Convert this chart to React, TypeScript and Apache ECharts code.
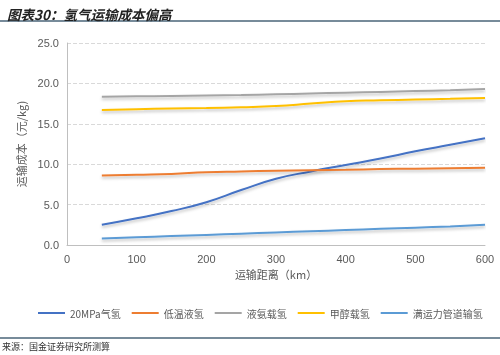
import React, { useEffect, useRef } from "react";
import * as echarts from "echarts";

const xValues = [50, 100, 150, 200, 250, 300, 350, 400, 450, 500, 550, 600];
const gas20MPa = [2.5, 3.3, 4.2, 5.3, 6.8, 8.2, 9.1, 9.9, 10.7, 11.6, 12.4, 13.2];
const liquidH2 = [8.6, 8.7, 8.8, 9.0, 9.1, 9.2, 9.25, 9.3, 9.4, 9.45, 9.5, 9.55];
const ammonia = [18.35, 18.4, 18.45, 18.5, 18.55, 18.65, 18.75, 18.85, 18.95, 19.05, 19.15, 19.3];
const methanol = [16.7, 16.8, 16.9, 16.95, 17.05, 17.2, 17.5, 17.8, 17.9, 18.0, 18.1, 18.2];
const pipeline = [0.8, 0.95, 1.1, 1.25, 1.4, 1.55, 1.7, 1.85, 2.0, 2.15, 2.3, 2.5];

const seriesNames = ["20MPa气氢", "低温液氢", "液氨载氢", "甲醇载氢", "满运力管道输氢"];
const seriesData = [gas20MPa, liquidH2, ammonia, methanol, pipeline];
const colors = ["#4472C4", "#ED7D31", "#A5A5A5", "#FFC000", "#5B9BD5"];

export default function App() {
  const ref = useRef<HTMLDivElement>(null);
  useEffect(() => {
    if (!ref.current) return;
    const chart = echarts.init(ref.current, undefined, { renderer: "svg" });
    const font = "Noto Sans CJK SC";
    chart.setOption({
      animation: false,
      textStyle: { fontFamily: font },
      title: {
        text: "图表30：氢气运输成本偏高",
        left: 2,
        top: 2,
        textStyle: { fontSize: 13.5, fontWeight: "bold", fontStyle: "italic", color: "#222", fontFamily: font },
      },
      graphic: [
        { type: "line", shape: { x1: 0, y1: 21, x2: 500, y2: 21 }, style: { stroke: "#4a6478", lineWidth: 1.5 } },
        { type: "line", shape: { x1: 0, y1: 338, x2: 500, y2: 338 }, style: { stroke: "#4a6478", lineWidth: 1.5 } },
        { type: "text", left: 2, top: 342, style: { text: "来源：国金证券研究所测算", fontSize: 9, fill: "#333", fontFamily: font } },
      ],
      color: colors,
      legend: {
        top: 303,
        left: 33,
        itemWidth: 27,
        itemHeight: 2,
        itemGap: 11,
        icon: "rect",
        textStyle: { fontSize: 10, color: "#595959" },
        data: seriesNames,
      },
      grid: { left: 67, right: 15, top: 43, bottom: 110 },
      xAxis: {
        type: "value",
        min: 0,
        max: 600,
        interval: 100,
        name: "运输距离（km）",
        nameLocation: "middle",
        nameGap: 23,
        nameTextStyle: { fontSize: 11, color: "#595959" },
        axisLine: { show: true, lineStyle: { color: "#BFBFBF" } },
        axisTick: { show: false },
        axisLabel: { fontSize: 11, color: "#595959", fontFamily: "Liberation Sans" },
        splitLine: { show: false },
      },
      yAxis: {
        type: "value",
        min: 0,
        max: 25,
        interval: 5,
        name: "运输成本（元/kg)",
        nameLocation: "middle",
        nameGap: 32,
        nameTextStyle: { fontSize: 11, color: "#595959" },
        axisLine: { show: true, lineStyle: { color: "#BFBFBF" } },
        axisTick: { show: false },
        axisLabel: { fontSize: 11, color: "#595959", fontFamily: "Liberation Sans", formatter: (v: number) => v.toFixed(1) },
        splitLine: { lineStyle: { type: "dashed", color: "#D9D9D9" } },
      },
      series: seriesNames.map((name, i) => ({
        name,
        type: "line",
        smooth: true,
        showSymbol: false,
        data: xValues.map((x, j) => [x, seriesData[i][j]]),
        lineStyle: {
          width: 2,
          color: colors[i],
          shadowColor: "rgba(0,0,0,0.25)",
          shadowBlur: 3,
          shadowOffsetY: 2,
        },
      })),
    });
    return () => chart.dispose();
  }, []);
  return <div ref={ref} style={{ width: 500, height: 355, position: "fixed", left: 0, top: 0 }} />;
}
